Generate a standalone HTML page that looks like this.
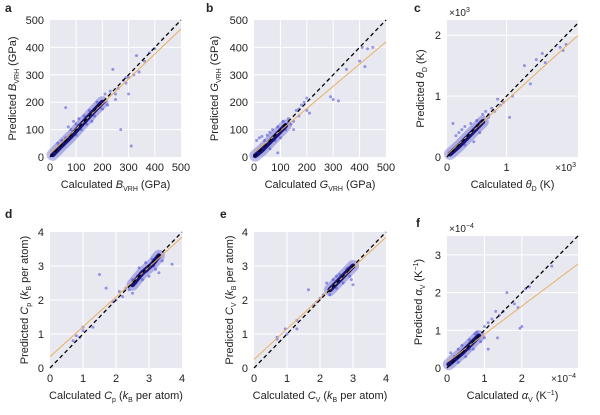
<!DOCTYPE html>
<html><head><meta charset="utf-8"><style>
body{margin:0;background:#fff;width:600px;height:410px;overflow:hidden;font-family:"Liberation Sans",Arial,sans-serif}
svg text{font-family:"Liberation Sans",Arial,sans-serif;fill:#222}
</style></head><body>
<svg id="chart" width="600" height="410" xmlns="http://www.w3.org/2000/svg"></svg>
<script>
// ---- data (value units) ----
const aX=[30,50,60,70,80,90,100,110,120,130,140,150,170,180,190,200,210,220,230,240,250,260,270,280,290,300,310,320,330,340,360,380,400,210,250,290,300,160,140,100,60,45,180];
const aY=[50,40,180,110,100,130,80,140,100,150,120,170,150,200,180,175,230,190,240,320,210,250,100,280,270,290,40,300,370,310,350,380,395,200,230,290,230,130,145,120,70,60,185];
const aCoreX=[10,40,80,120,160,200];
const aCoreY=[8,38,75,118,160,200];
const bX=[10,20,30,40,50,60,70,80,90,100,110,120,130,140,150,160,170,180,190,200,210,200,90,60,150,290,300,320,350,400,410,420,430,450,170,130,100];
const bY=[60,70,75,60,80,90,100,60,110,90,130,100,140,120,130,170,150,190,200,215,160,170,15,30,100,220,210,205,320,350,400,330,395,400,175,125,70];
const bCoreX=[5,30,60,90,120];
const bCoreY=[5,25,55,85,115];
const cX=[0.1,0.15,0.2,0.25,0.3,0.35,0.4,0.45,0.5,0.55,0.6,0.65,0.7,0.75,0.8,0.85,0.9,0.95,1.05,1.1,1.3,1.4,1.5,1.6,1.65,1.9,1.95,2.0,0.7,0.3,0.5];
const cY=[0.55,0.35,0.4,0.45,0.5,0.3,0.55,0.25,0.6,0.4,0.7,0.75,0.65,0.8,0.75,0.95,0.85,0.9,0.65,1.0,1.5,1.2,1.6,1.7,1.55,1.8,1.75,1.85,0.7,0.2,0.45];
const cCoreX=[0.05,0.2,0.4,0.6];
const cCoreY=[0.05,0.18,0.38,0.58];
const dX=[0.7,0.8,0.9,1.0,1.0,1.3,1.5,1.7,1.9,2.0,2.1,2.2,2.3,2.4,2.5,2.6,2.7,2.8,2.9,3.0,3.1,3.2,3.3,3.4,3.7,2.5,2.95,3.15,2.65];
const dY=[0.8,0.95,0.9,1.2,1.1,1.2,2.75,2.35,1.95,2.0,2.25,2.1,2.35,2.3,2.6,2.5,2.95,2.6,3.1,2.7,3.2,2.9,2.8,3.15,3.05,2.2,2.85,3.0,2.7];
const dCoreX=[2.5,2.8,3.1,3.3];
const dCoreY=[2.45,2.8,3.05,3.3];
const eX=[0.7,0.7,0.95,1.0,1.3,1.3,1.65,1.8,1.9,2.0,2.1,2.2,2.3,2.4,2.5,2.6,2.7,2.8,2.9,2.95,3.0,2.85,2.5,2.75];
const eY=[0.85,0.9,1.15,1.0,1.4,1.15,2.3,1.85,1.95,2.05,2.15,2.5,2.15,2.6,2.35,2.75,2.5,2.9,2.7,2.6,2.45,2.95,2.7,2.8];
const eCoreX=[2.3,2.6,3.0];
const eCoreY=[2.3,2.6,3.0];
const fX=[0.1,0.2,0.3,0.4,0.5,0.6,0.7,0.75,0.8,0.9,1.0,1.0,1.1,1.1,1.2,1.3,1.35,1.4,1.5,1.6,1.8,1.9,1.95,2.0,2.1,2.2,2.8,0.3,0.6];
const fY=[0.4,0.3,0.5,0.6,0.3,0.75,0.5,0.9,0.95,0.7,1.1,0.8,1.2,0.5,1.3,1.5,0.8,1.4,1.5,2.0,1.7,1.6,1.05,1.1,2.1,2.15,2.7,0.15,0.5];
const fCoreX=[0.05,0.4,0.85];
const fCoreY=[0.1,0.4,0.85];
// fit lines: [intercept, slope]
const fitA=[12,0.91], fitB=[15,0.81], fitC=[0.04,0.89], fitD=[0.33,0.88], fitE=[0.25,0.9], fitF=[0.15,0.745];
const ticksA=[0,100,200,300,400,500], ticks4=[0,1,2,3,4], ticksC=[0,1,2], ticksF=[0,1,2,3];

const NS="http://www.w3.org/2000/svg";
const svg=document.getElementById('chart');
function mk(tag,attrs,parent,txt){const e=document.createElementNS(NS,tag);for(const k in attrs)e.setAttribute(k,attrs[k]);if(txt!==undefined)e.textContent=txt;(parent||svg).appendChild(e);return e;}

const panels=[
 {id:'a',x:50,y:20,w:131,h:137,max:500,maxY:500,xt:ticksA,yt:ticksA,X:aX,Y:aY,CX:aCoreX,CY:aCoreY,fit:fitA,lx:5,ly:12,ylx:12,xl:['Calculated ','B','VRH',' (GPa)'],yl:['Predicted ','B','VRH',' (GPa)'],xlY:188},
 {id:'b',x:254,y:20,w:132,h:137,max:500,maxY:500,xt:ticksA,yt:ticksA,X:bX,Y:bY,CX:bCoreX,CY:bCoreY,fit:fitB,lx:206,ly:12,ylx:214,xl:['Calculated ','G','VRH',' (GPa)'],yl:['Predicted ','G','VRH',' (GPa)'],xlY:188},
 {id:'c',x:447,y:20,w:131,h:137,max:2.2,maxY:2.25,xt:[0,1],yt:ticksC,X:cX,Y:cY,CX:cCoreX,CY:cCoreY,fit:fitC,lx:414,ly:12,ylx:420,xl:['Calculated ','θ','D',' (K)'],yl:['Predicted ','θ','D',' (K)'],xlY:188,exp:'3'},
 {id:'d',x:50,y:232,w:132,h:136,max:4,maxY:4,xt:ticks4,yt:ticks4,X:dX,Y:dY,CX:dCoreX,CY:dCoreY,fit:fitD,lx:5,ly:218,ylx:24,xl:['Calculated ','C','p',' (k',' per atom)'],yl:['Predicted ','C','p',' (k',' per atom)'],xlY:399,kb:true},
 {id:'e',x:254,y:232,w:132,h:136,max:4,maxY:4,xt:ticks4,yt:ticks4,X:eX,Y:eY,CX:eCoreX,CY:eCoreY,fit:fitE,lx:220,ly:218,ylx:229,xl:['Calculated ','C','V',' (k',' per atom)'],yl:['Predicted ','C','V',' (k',' per atom)'],xlY:399,kb:true},
 {id:'f',x:447,y:236,w:131,h:132,max:3.5,maxY:3.5,xt:[0,1,2],yt:ticksF,X:fX,Y:fY,CX:fCoreX,CY:fCoreY,fit:fitF,lx:416,ly:227,ylx:418,xl:['Calculated ','α','V',' (K',')'],yl:['Predicted ','α','V',' (K',')'],xlY:399,exp:'−4',inv:true}
];

function label(p,g,parts,x,y,rot){
  const t=mk('text',{x:x,y:y,'font-size':11,'text-anchor':'middle',transform:rot?`rotate(-90 ${x} ${y})`:''},g);
  
  
  mk('tspan',{},t,parts[0]);
  mk('tspan',{'font-style':'italic'},t,parts[1]);
  mk('tspan',{'font-size':7,dy:3},t,parts[2]);
  if(p.kb){mk('tspan',{dy:-3},t,' (');mk('tspan',{'font-style':'italic'},t,'k');mk('tspan',{'font-size':7,dy:3},t,'B');mk('tspan',{dy:-3},t,' per atom)');}
  else if(p.inv){mk('tspan',{dy:-3},t,' (K');mk('tspan',{'font-size':7,dy:-4},t,'−1');mk('tspan',{dy:4},t,')');}
  else mk('tspan',{dy:-3},t,parts[3]);
}

panels.forEach(p=>{
  const g=mk('g',{});
  
  
  const sx=v=>p.x+v/p.max*p.w, sy=v=>p.y+p.h-v/p.maxY*p.h;
  const bg=mk('rect',{x:p.x,y:p.y,width:p.w,height:p.h,fill:'#e8e8f1'},g);
  
  
  p.xt.forEach(v=>{
    if(v>0&&v<p.max) mk('line',{x1:sx(v),x2:sx(v),y1:p.y,y2:p.y+p.h,stroke:'#fff','stroke-width':1},g);
    const t=mk('text',{x:sx(v),y:p.y+p.h+14,'font-size':11,'text-anchor':'middle'},g,String(v));
    
    
  });
  p.yt.forEach(v=>{
    if(v>0&&v<p.maxY) mk('line',{x1:p.x,x2:p.x+p.w,y1:sy(v),y2:sy(v),stroke:'#fff','stroke-width':1},g);
    const t=mk('text',{x:p.x-6,y:sy(v)+4,'font-size':11,'text-anchor':'end'},g,String(v));
    
    
  });
  const pts=p.CX.map((v,i)=>sx(v)+','+sy(p.CY[i])).join(' ');
  const halo=mk('polyline',{points:pts,fill:'none',stroke:'rgba(60,60,200,0.35)','stroke-width':12,'stroke-linecap':'round'},g);
  
  
  p.X.forEach((v,i)=>{
    const c=mk('circle',{cx:sx(v),cy:sy(p.Y[i]),r:1.5,fill:'rgba(60,60,210,0.5)'},g);
    
    
  });
  const core=mk('polyline',{points:pts,fill:'none',stroke:'#141478','stroke-width':5,'stroke-linecap':'round'},g);
  
  
  const x0=0,x1=p.max;
  const fl=mk('line',{x1:sx(x0),y1:sy(p.fit[0]+p.fit[1]*x0),x2:sx(x1),y2:sy(p.fit[0]+p.fit[1]*x1),stroke:'#e8b060','stroke-width':1},g);
  
  
  const m=Math.min(p.max,p.maxY);
  const id=mk('line',{x1:sx(0),y1:sy(0),x2:sx(m),y2:sy(m),stroke:'#000','stroke-width':1.3,'stroke-dasharray':'4,3'},g);
  
  
  const L=mk('text',{x:p.lx,y:p.ly,'font-size':12,'font-weight':'bold'},g,p.id);
  
  
  label(p,g,p.xl,p.x+p.w/2,p.xlY,false);
  label(p,g,p.yl,p.ylx+4,p.y+p.h/2,true);
  if(p.exp){
    const e1=mk('text',{x:p.x+2,y:p.y-4,'font-size':10},g);
    
    
    mk('tspan',{},e1,'×10');mk('tspan',{'font-size':7,dy:-4},e1,p.exp);
    const e2=mk('text',{x:p.x+p.w-2,y:p.y+p.h+14,'font-size':10,'text-anchor':'end'},g);
    
    
    mk('tspan',{},e2,'×10');mk('tspan',{'font-size':7,dy:-4},e2,p.exp);
  }
});
</script>
</body></html>
